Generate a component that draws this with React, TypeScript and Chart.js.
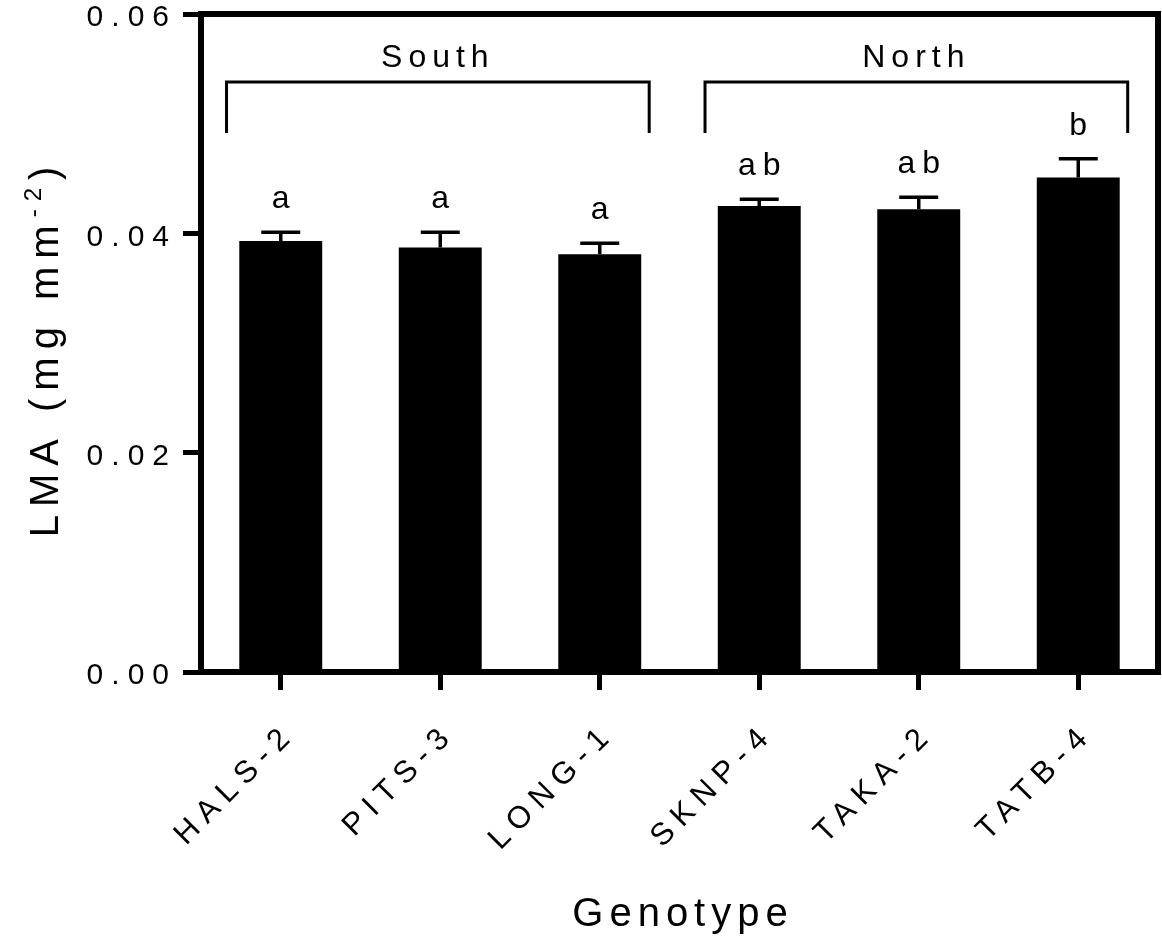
import React, { useEffect, useRef } from "react";
import { Chart, registerables } from "chart.js";

Chart.register(...registerables);

// ---- data ----
const genotypes = ["HALS-2", "PITS-3", "LONG-1", "SKNP-4", "TAKA-2", "TATB-4"];
const lmaMean = [0.0393, 0.0387, 0.0381, 0.0425, 0.0422, 0.0451];
const lmaErrTop = [0.0401, 0.0401, 0.0391, 0.0431, 0.0433, 0.0468];
const sigLetters = ["a", "a", "a", "ab", "ab", "b"];
const yTickValues = [0, 0.02, 0.04, 0.06];
const groupLabels = ["South", "North"];
const groupStart = [0, 3];
const groupEnd = [2, 5];

const FONT = '"Liberation Sans", Arial, Helvetica, sans-serif';
const W = 1162;
const H = 938;

const prismPlugin = {
  id: "prismDecor",
  beforeLayout(chart: any) {
    chart.ctx.letterSpacing = "8px";
  },
  beforeDraw(chart: any) {
    chart.ctx.letterSpacing = "8px";
  },
  beforeDatasetsDraw(chart: any) {
    chart.ctx.letterSpacing = "0px";
  },
  afterDatasetsDraw(chart: any) {
    const { ctx, chartArea, scales } = chart;
    const x = scales.x;
    const y = scales.y;
    ctx.save();
    ctx.strokeStyle = "#000";
    ctx.fillStyle = "#000";

    // frame top & right
    ctx.lineWidth = 6;
    ctx.lineCap = "square";
    ctx.beginPath();
    ctx.moveTo(chartArea.left, chartArea.top);
    ctx.lineTo(chartArea.right, chartArea.top);
    ctx.lineTo(chartArea.right, chartArea.bottom);
    ctx.stroke();

    // error bars + letters
    const meta = chart.getDatasetMeta(0);
    meta.data.forEach((bar: any, i: number) => {
      const cx = bar.x;
      const yTop = y.getPixelForValue(lmaErrTop[i]);
      const yMean = y.getPixelForValue(lmaMean[i]);
      const capHalf = bar.width * 0.235;
      ctx.lineCap = "butt";
      ctx.lineWidth = 3.5;
      ctx.beginPath();
      ctx.moveTo(cx, yMean);
      ctx.lineTo(cx, yTop);
      ctx.moveTo(cx - capHalf, yTop);
      ctx.lineTo(cx + capHalf, yTop);
      ctx.stroke();

      ctx.font = `32px ${FONT}`;
      ctx.letterSpacing = "7px";
      ctx.textAlign = "center";
      ctx.textBaseline = "alphabetic";
      ctx.fillText(sigLetters[i], cx + 3.5, yTop - 24);
    });

    // group brackets
    const catW = x.getPixelForValue(1) - x.getPixelForValue(0);
    const yH = y.getPixelForValue(0.0538);
    const yB = y.getPixelForValue(0.04915);
    groupLabels.forEach((lab, g) => {
      const x0 = x.getPixelForValue(groupStart[g]) - 0.34 * catW;
      const x1 = x.getPixelForValue(groupEnd[g]) + 0.31 * catW;
      ctx.lineWidth = 3;
      ctx.lineCap = "butt";
      ctx.lineJoin = "miter";
      ctx.beginPath();
      ctx.moveTo(x0, yB);
      ctx.lineTo(x0, yH);
      ctx.lineTo(x1, yH);
      ctx.lineTo(x1, yB);
      ctx.stroke();
      ctx.font = `32px ${FONT}`;
      ctx.letterSpacing = "6px";
      ctx.textAlign = "center";
      ctx.textBaseline = "alphabetic";
      ctx.fillText(lab, (x0 + x1) / 2, yH - 15);
    });

    // x title
    ctx.font = `40px ${FONT}`;
    ctx.letterSpacing = "6px";
    ctx.textAlign = "center";
    ctx.textBaseline = "alphabetic";
    ctx.fillText("Genotype", 683, 926);

    // y title with superscript
    const mainSize = 40;
    const supSize = 24;
    ctx.textAlign = "left";
    ctx.letterSpacing = "8px";
    ctx.font = `${mainSize}px ${FONT}`;
    const s1 = "LMA (mg mm";
    const s3 = ")";
    const w1 = ctx.measureText(s1).width;
    const w3 = ctx.measureText(s3).width;
    ctx.font = `${supSize}px ${FONT}`;
    const s2 = "-2";
    const w2 = ctx.measureText(s2).width;
    const total = w1 + w2 + w3;
    const cy = (chartArea.top + chartArea.bottom) / 2 + 5;
    ctx.translate(58, cy);
    ctx.rotate(-Math.PI / 2);
    let px = -total / 2;
    ctx.font = `${mainSize}px ${FONT}`;
    ctx.fillText(s1, px, 0);
    px += w1;
    ctx.font = `${supSize}px ${FONT}`;
    ctx.fillText(s2, px, -17);
    px += w2;
    ctx.font = `${mainSize}px ${FONT}`;
    ctx.fillText(s3, px, 0);

    ctx.restore();
  },
};

export default function App() {
  const ref = useRef<HTMLCanvasElement | null>(null);

  useEffect(() => {
    document.body.style.margin = "0";
    const canvas = ref.current!;
    const chart = new Chart(canvas, {
      type: "bar",
      data: {
        labels: genotypes,
        datasets: [
          {
            data: lmaMean,
            backgroundColor: "#000",
            borderWidth: 0,
            barPercentage: 0.52,
            categoryPercentage: 1,
          },
        ],
      },
      options: {
        responsive: false,
        animation: false,
        devicePixelRatio: 1,
        layout: { padding: { top: 14, right: 4, left: 0, bottom: 0 } },
        plugins: {
          legend: { display: false },
          tooltip: { enabled: false },
          title: { display: false },
        },
        scales: {
          x: {
            grid: {
              offset: false,
              drawOnChartArea: false,
              drawTicks: true,
              tickLength: 18,
              tickWidth: 5,
              tickColor: "#000",
            },
            border: { display: true, color: "#000", width: 6 },
            ticks: {
              color: "#000",
              font: { family: FONT, size: 31 },
              minRotation: 45,
              maxRotation: 45,
              padding: 26,
              labelOffset: 10,
              autoSkip: false,
            },
            afterFit: (s: any) => {
              s.height = H - 672;
              s.paddingLeft = 0;
              s.paddingRight = 0;
            },
          },
          y: {
            min: 0,
            max: 0.06,
            afterBuildTicks: (s: any) => {
              s.ticks = yTickValues.map((v) => ({ value: v }));
            },
            grid: {
              drawOnChartArea: false,
              drawTicks: true,
              tickLength: 18,
              tickWidth: 5,
              tickColor: "#000",
            },
            border: { display: true, color: "#000", width: 6 },
            ticks: {
              color: "#000",
              font: { family: FONT, size: 30 },
              padding: 6,
              labelOffset: 4,
              callback: (v: any) => Number(v).toFixed(2),
            },
            afterFit: (s: any) => {
              s.width = 201;
              s.paddingTop = 0;
              s.paddingBottom = 0;
            },
          },
        },
      },
      plugins: [prismPlugin],
    } as any);
    return () => chart.destroy();
  }, []);

  return (
    <div style={{ position: "absolute", left: 0, top: 0, width: W, height: H, background: "#fff" }}>
      <canvas ref={ref} width={W} height={H} style={{ width: W, height: H, display: "block" }} />
    </div>
  );
}
